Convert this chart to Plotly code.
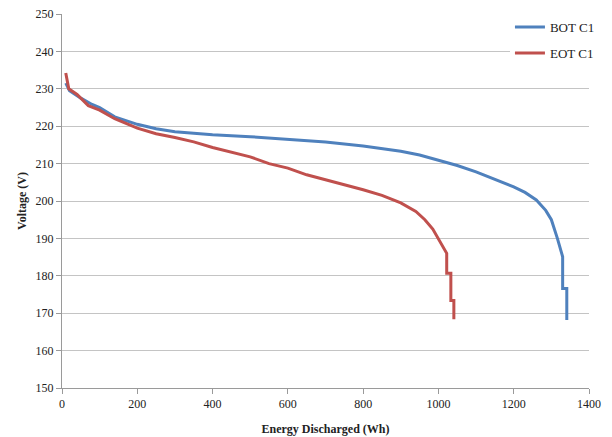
import plotly.graph_objects as go

bot_x = [10, 20, 50, 80, 100, 140, 200, 250, 300, 400, 500, 600, 700, 800, 900, 950, 1000, 1050, 1100, 1150, 1200, 1230, 1260, 1285, 1300, 1316, 1324, 1330, 1330, 1341, 1341]
bot_y = [231.5, 229.5, 227.5, 225.8, 225.0, 222.5, 220.5, 219.3, 218.5, 217.7, 217.2, 216.5, 215.8, 214.7, 213.3, 212.3, 211.0, 209.5, 207.8, 205.8, 203.8, 202.3, 200.3, 197.5, 195.0, 190.0, 187.0, 185.1, 176.6, 176.6, 168.2]

eot_x = [10, 18, 40, 70, 100, 140, 200, 250, 300, 350, 400, 450, 500, 550, 600, 650, 700, 750, 800, 850, 900, 940, 964, 985, 1000, 1012, 1022, 1022, 1033, 1033, 1041, 1041]
eot_y = [234.2, 230.0, 228.5, 225.5, 224.3, 222.0, 219.5, 218.0, 217.0, 215.8, 214.3, 213.0, 211.8, 210.0, 208.8, 207.0, 205.7, 204.3, 203.0, 201.5, 199.5, 197.2, 195.0, 192.5, 190.0, 188.0, 186.0, 180.7, 180.7, 173.4, 173.4, 168.4]

x_ticks = [0, 200, 400, 600, 800, 1000, 1200, 1400]
y_ticks = [150, 160, 170, 180, 190, 200, 210, 220, 230, 240, 250]

SERIF = "Liberation Serif, 'Times New Roman', Times, serif"

fig = go.Figure()
fig.add_trace(go.Scatter(x=bot_x, y=bot_y, mode="lines", name="BOT C1", legendgroup="a",
                         line=dict(color="#4F81BD", width=3)))
fig.add_trace(go.Scatter(x=eot_x, y=eot_y, mode="lines", name="EOT C1", legendgroup="b",
                         line=dict(color="#C0504D", width=3)))

fig.update_layout(
    width=612, height=437,
    margin=dict(l=62, r=23, t=14, b=49),
    paper_bgcolor="white", plot_bgcolor="white",
    font=dict(family=SERIF, size=12, color="#222222"),
    showlegend=True,
    legend=dict(x=0.85, y=1.005, xanchor="left", yanchor="top",
                bgcolor="white", font=dict(family=SERIF, size=13, color="#222222"),
                tracegroupgap=6, itemwidth=30),
    xaxis=dict(range=[0, 1400], tickvals=x_ticks, showgrid=False, automargin=False,
               showline=True, linecolor="#9a9a9a", linewidth=1,
               ticks="outside", ticklen=5, tickcolor="#9a9a9a",
               zeroline=False, tickfont=dict(family=SERIF, size=12),
               title=dict(text="<b>Energy Discharged (Wh)</b>", font=dict(family=SERIF, size=12), standoff=14)),
    yaxis=dict(range=[150, 250], tickvals=y_ticks, showgrid=True, gridcolor="#c4c4c4", gridwidth=1,
               automargin=False,
               showline=True, linecolor="#9a9a9a", linewidth=1,
               ticks="outside", ticklen=5, tickcolor="#9a9a9a",
               zeroline=False, tickfont=dict(family=SERIF, size=12),
               title=dict(text="<b>Voltage (V)</b>", font=dict(family=SERIF, size=12), standoff=6)),
)

fig.write_html("out.html")
